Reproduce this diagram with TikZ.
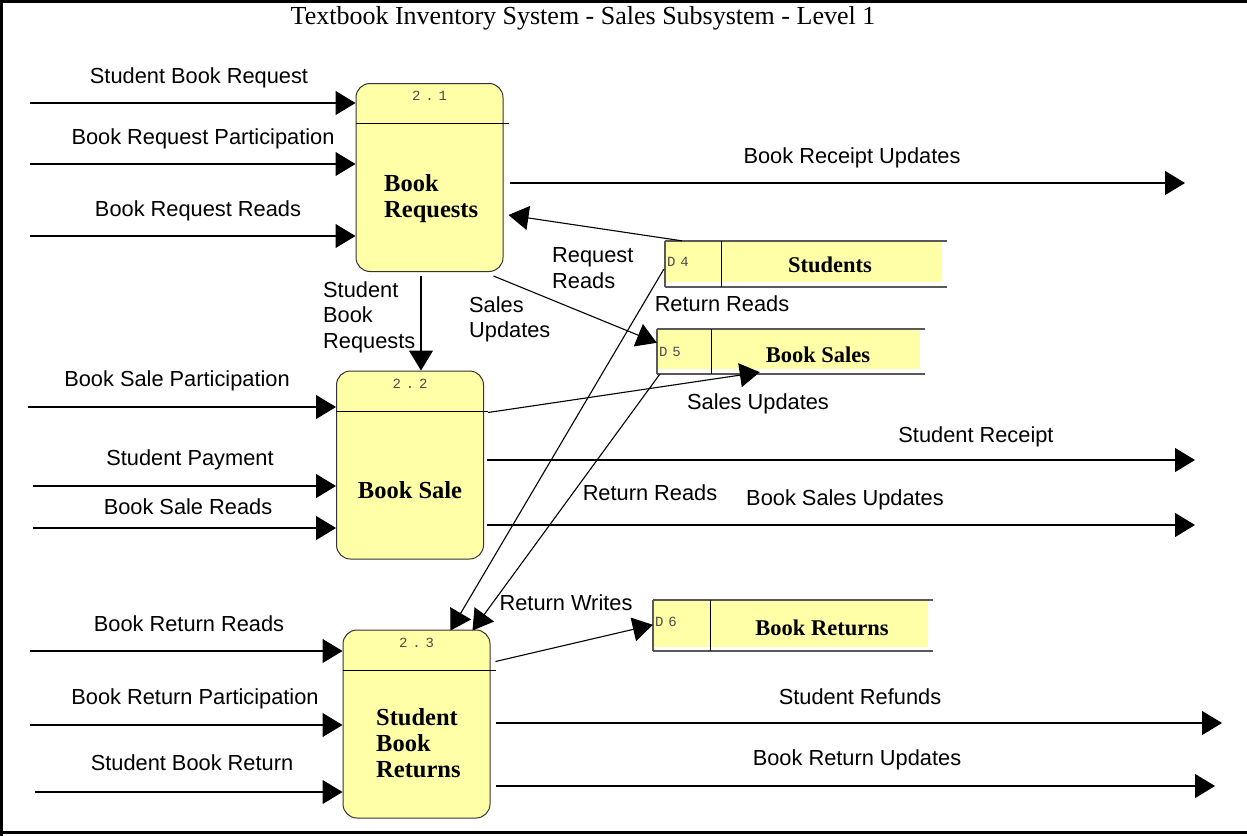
\documentclass[tikz,border=0pt]{standalone}
\usepackage{fontspec}
\setmainfont{Liberation Sans}
\newfontfamily\seriff{Liberation Serif}
\newfontfamily\monof[LetterSpace=35]{Liberation Mono}
\usetikzlibrary{arrows.meta,calc}
\definecolor{pyellow}{RGB}{255,255,168}
\tikzset{
  flow/.style={line width=1.1pt, -{Triangle[length=20pt,width=24pt]}},
  lbl/.style={font=\fontsize{21.8}{25.5}\selectfont, inner sep=0pt, align=left},
  proc/.style={draw=black!80, fill=pyellow, rounded corners=14pt, minimum width=147pt, minimum height=188pt, inner sep=0pt, line width=1pt},
  ptitle/.style={font=\seriff\bfseries\fontsize{24.5}{26}\selectfont, inner sep=0pt, align=left},
  pnum/.style={font=\monof\fontsize{14}{16}\selectfont, text=black!70, inner sep=0pt},
  store/.style={inner sep=0pt, minimum height=#1},
  sline/.style={draw=black!65, line width=1.6pt},
  divl/.style={draw=black, line width=1pt},
  stitle/.style={font=\seriff\bfseries\fontsize{22.5}{26}\selectfont, inner sep=0pt},
}
\begin{document}
\begin{tikzpicture}[x=1pt,y=-1pt]
\useasboundingbox (0,0) rectangle (1247,835);
\draw[line width=3pt] (1.5,1300) -- (1.5,1.5) -- (1300,1.5);
\draw[line width=3pt] (0,832) -- (1300,832);

\node[font=\seriff\fontsize{26}{28}\selectfont, inner sep=0pt] (title) at (583,18) {Textbook Inventory System - Sales Subsystem - Level 1};

% processes
\node[proc] (P1) at (429.5,177.5) {};
\node[proc] (P2) at (410,465) {};
\node[proc] (P3) at (416.5,724) {};
\draw[line width=1pt] (P1.west |- 0,123) -- (509,123);
\draw[line width=1pt] (P2.west |- 0,411) -- (488,411);
\draw[line width=1pt] (P3.west |- 0,670) -- (496,670);
\node[pnum] (n1) at ($(P1.north)+(0,13)$) {2.1};
\node[pnum] (n2) at ($(P2.north)+(0,13)$) {2.2};
\node[pnum] (n3) at ($(P3.north)+(0,13)$) {2.3};
\node[ptitle, anchor=west] (t1) at (384,199) {Book\\Requests};
\node[ptitle] (t2) at (410,490) {Book Sale};
\node[ptitle, anchor=west] (t3) at (376,743) {Student\\Book\\Returns};

% data stores
\node[store=46pt, minimum width=282pt] (D4) at (806,264) {};
\fill[pyellow] (D4.north west) rectangle ($(D4.south east)+(-5,-5)$);
\draw[sline] (D4.north west) -- (D4.north east);
\draw[sline] (D4.south west) -- (D4.south east);
\draw[sline] (D4.north west) -- (D4.south west);
\draw[divl] ($(D4.north west)+(57,0)$) -- ($(D4.south west)+(57,0)$);
\node[pnum, anchor=west] (d4) at ($(D4.west)+(2,-2)$) {D4};
\node[stitle] (s4) at (830,265) {Students};

\node[store=45pt, minimum width=268pt] (D5) at (791,351.5) {};
\fill[pyellow] (D5.north west) rectangle ($(D5.south east)+(-5,-5)$);
\draw[sline] (D5.north west) -- (D5.north east);
\draw[sline] (D5.south west) -- (D5.south east);
\draw[sline] (D5.north west) -- (D5.south west);
\draw[divl] ($(D5.north west)+(55,0)$) -- ($(D5.south west)+(55,0)$);
\node[pnum, anchor=west] (d5) at ($(D5.west)+(2,0)$) {D5};
\node[stitle] (s5) at (818,355) {Book Sales};

\node[store=51pt, minimum width=280pt] (D6) at (793,625.5) {};
\fill[pyellow] (D6.north west) rectangle ($(D6.south east)+(-5,-4)$);
\draw[sline] (D6.north west) -- (D6.north east);
\draw[sline] (D6.south west) -- (D6.south east);
\draw[sline] (D6.north west) -- (D6.south west);
\draw[divl] ($(D6.north west)+(58,0)$) -- ($(D6.south west)+(58,0)$);
\node[pnum, anchor=west] (d6) at ($(D6.west)+(2,-4)$) {D6};
\node[stitle] (s6) at (822,628) {Book Returns};

% external inputs
\coordinate (i11) at (30,103);
\coordinate (i12) at (30,164);
\coordinate (i13) at (30,236);
\coordinate (i21) at (28,407);
\coordinate (i22) at (33,486);
\coordinate (i23) at (33,528);
\coordinate (i31) at (30,651);
\coordinate (i32) at (30,725);
\coordinate (i33) at (35,792);
\draw[flow] (i11) -- (i11 -| P1.west);
\draw[flow] (i12) -- (i12 -| P1.west);
\draw[flow] (i13) -- (i13 -| P1.west);
\draw[flow] (i21) -- (i21 -| P2.west);
\draw[flow] (i22) -- (i22 -| P2.west);
\draw[flow] (i23) -- (i23 -| P2.west);
\draw[flow] (i31) -- (i31 -| P3.west);
\draw[flow] (i32) -- (i32 -| P3.west);
\draw[flow] (i33) -- (i33 -| P3.west);

% external outputs
\coordinate (o11) at (1185,183);
\coordinate (o21) at (1195,460);
\coordinate (o22) at (1195,525);
\coordinate (o31) at (1222,723);
\coordinate (o32) at (1215,786);
\draw[flow] ([xshift=6pt]P1.east |- o11) -- (o11);
\draw[flow] ([xshift=3pt]P2.east |- o21) -- (o21);
\draw[flow] ([xshift=3pt]P2.east |- o22) -- (o22);
\draw[flow] ([xshift=5pt]P3.east |- o31) -- (o31);
\draw[flow] ([xshift=5pt]P3.east |- o32) -- (o32);

% internal flows
\draw[flow] ($(D4.north west)+(17,0)$) -- ($(P1.east)+(5,37.5)$);
\draw[flow] ($(P1.south east)+(-10,4)$) -- ($(D5.north west)+(0,14)$);
\draw[flow] ($(P1.south)+(-8.5,4)$) -- ($(P2.north)+(11,0)$);
\draw[flow] ($(P2.north east)+(4,42)$) -- ($(D5.south west)+(103,-2)$);
\draw[flow] ($(D4.south west)+(-1,-18)$) -- ($(P3.north)+(34,1)$);
\draw[flow] ($(D5.south west)+(3,0)$) -- ($(P3.north)+(56,1)$);
\draw[flow] ($(P3.north east)+(5,32)$) -- ($(D6.north west)+(0,25)$);

% labels
\node[lbl] (l1) at (199,78) {Student Book Request};
\node[lbl] (l2) at (203,139) {Book Request Participation};
\node[lbl] (l3) at (198,211) {Book Request Reads};
\node[lbl] (l4) at (852,158) {Book Receipt Updates};
\node[lbl, anchor=west] (l5) at (552,268) {Request\\Reads};
\node[lbl] (l6) at (722,304) {Return Reads};
\node[lbl, anchor=west] (l7) at (469,319.5) {Sales\\Updates};
\node[lbl, anchor=west] (l8) at (323,317) {Student\\Book\\Requests};
\node[lbl] (l9) at (177,381) {Book Sale Participation};
\node[lbl] (l10) at (758,404) {Sales Updates};
\node[lbl] (l11) at (976,437) {Student Receipt};
\node[lbl] (l12) at (190,460) {Student Payment};
\node[lbl] (l13) at (650,493) {Return Reads};
\node[lbl] (l14) at (845,500) {Book Sales Updates};
\node[lbl] (l15) at (188,507) {Book Sale Reads};
\node[lbl] (l16) at (566,603) {Return Writes};
\node[lbl] (l17) at (189,624) {Book Return Reads};
\node[lbl] (l18) at (860,697) {Student Refunds};
\node[lbl] (l19) at (195,699) {Book Return Participation};
\node[lbl] (l20) at (192,763) {Student Book Return};
\node[lbl] (l21) at (857,760) {Book Return Updates};
\end{tikzpicture}
\end{document}
